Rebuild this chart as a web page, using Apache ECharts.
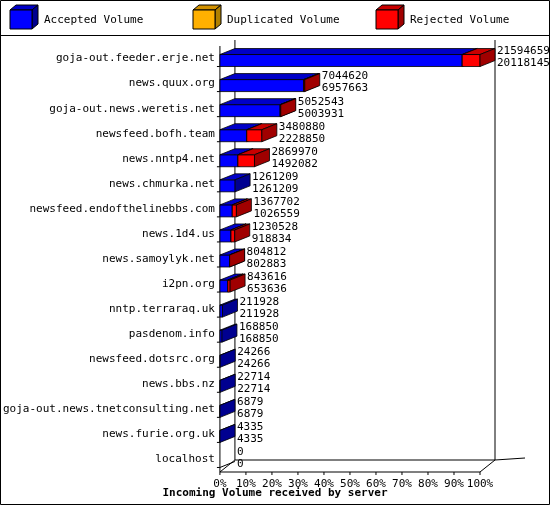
<!DOCTYPE html><html><head><meta charset="utf-8">
<script src="https://cdn.jsdelivr.net/npm/echarts@6/dist/echarts.min.js"></script>
<style>html,body{margin:0;padding:0;background:#fff}#c{width:550px;height:505px}</style></head><body><div id="c"></div>
<script>
const servers=["goja-out.feeder.erje.net","news.quux.org","goja-out.news.weretis.net","newsfeed.bofh.team","news.nntp4.net","news.chmurka.net","newsfeed.endofthelinebbs.com","news.1d4.us","news.samoylyk.net","i2pn.org","nntp.terraraq.uk","pasdenom.info","newsfeed.dotsrc.org","news.bbs.nz","goja-out.news.tnetconsulting.net","news.furie.org.uk","localhost"];
const offered=[21594659,7044620,5052543,3480880,2869970,1261209,1367702,1230528,804812,843616,211928,168850,24266,22714,6879,4335,0];
const accepted=[20118145,6957663,5003931,2228850,1492082,1261209,1026559,918834,802883,653636,211928,168850,24266,22714,6879,4335,0];
const tickLabels=["0%","10%","20%","30%","40%","50%","60%","70%","80%","90%","100%"];
const FONT='"DejaVu Sans Mono", monospace';
const DX=15,DY=6,H=12;
function box(x0,x1,yb,front,topc,side){
  return [
    {type:'rect',shape:{x:x0,y:yb-H,width:Math.max(x1-x0,0),height:H},style:{fill:front,stroke:'#000',lineWidth:0.8}},
    {type:'polygon',shape:{points:[[x0,yb-H],[x0+DX,yb-H-DY],[x1+DX,yb-H-DY],[x1,yb-H]]},style:{fill:topc,stroke:'#000',lineWidth:0.8}},
    {type:'polygon',shape:{points:[[x1,yb-H],[x1+DX,yb-H-DY],[x1+DX,yb-DY],[x1,yb]]},style:{fill:side,stroke:'#000',lineWidth:0.8}}
  ];
}
const data=servers.map((s,i)=>[i,accepted[i],offered[i]]);
const chart=echarts.init(document.getElementById('c'));
const maxV=Math.max(...offered);
chart.setOption({
  animation:false,
  grid:{left:200,right:70,top:46,bottom:33},
  xAxis:{type:'value',min:0,max:maxV,interval:maxV/10,axisLine:{show:false},axisTick:{show:false},splitLine:{show:false},
    axisLabel:{margin:7,color:'#000',fontFamily:FONT,fontSize:11,formatter:(v)=>tickLabels[Math.round(v/maxV*10)]}},
  yAxis:{type:'category',data:servers,inverse:true,axisLine:{show:false},axisTick:{show:false},
    axisLabel:{margin:5,color:'#000',fontFamily:FONT,fontSize:11}},
  series:[{type:'custom',data:data,encode:{x:[1,2],y:0},renderItem:(p,api)=>{
    const i=api.value(0),a=api.value(1),o=api.value(2);
    const p0=api.coord([0,i]),pa=api.coord([a,i]),po=api.coord([o,i]);
    const yb=p0[1]+8;
    let ch=[];
    if(o>0){
      ch=ch.concat(box(p0[0],pa[0],yb,'#0000ff','#0000c8','#000090'));
      if(o>a) ch=ch.concat(box(pa[0],po[0],yb,'#ff0000','#c80000','#a00000'));
    } else {
      ch.push({type:'line',shape:{x1:p0[0],y1:yb,x2:p0[0]+DX,y2:yb-DY},style:{stroke:'#000',lineWidth:1}});
    }
    ch.push({type:'text',style:{x:po[0]+DX+2,y:p0[1]-1,text:o+'\n'+a,font:'11px '+FONT,fill:'#000',lineHeight:12,verticalAlign:'middle'}});
    return {type:'group',children:ch};
  }}]
});
const L=chart.convertToPixel({xAxisIndex:0},0),R=chart.convertToPixel({xAxisIndex:0},maxV);
const yTop=40,fb=472,bb=fb-12;
const ln=(x1,y1,x2,y2)=>({type:'line',shape:{x1,y1,x2,y2},style:{stroke:'#000',lineWidth:1},silent:true});
const g=[
  {type:'rect',shape:{x:0.5,y:0.5,width:549,height:504},style:{fill:null,stroke:'#000',lineWidth:1},z:-1},
  ln(0,35.5,550,35.5),
  ln(L+DX,yTop,L+DX,bb),ln(L+DX,bb,R+DX,bb),ln(R+DX,yTop,R+DX,bb),
  ln(L,yTop+6,L,fb),ln(L,fb,R,fb),ln(R,fb,R+DX,bb),ln(L,fb,L+DX,bb),ln(R+DX,bb,R+DX+30,bb-2),
  {type:'text',style:{x:275,y:493,text:'Incoming Volume received by server',font:'bold 11px '+FONT,fill:'#000',align:'center',verticalAlign:'middle'}}
];
for(let k=0;k<=10;k++){const x=L+(R-L)*k/10;g.push(ln(x,fb,x,fb+3));}
servers.forEach((s,i)=>{const y=chart.convertToPixel({yAxisIndex:0},i);g.push(ln(L-3,y+8,L,y+8));});
const leg=[['Accepted Volume','#0000ff','#0000c8','#000090',10],['Duplicated Volume','#ffb000','#d09000','#b08000',193],['Rejected Volume','#ff0000','#c80000','#a00000',376]];
leg.forEach(([t,f,tp,sd,x])=>{
  g.push({type:'polygon',shape:{points:[[x,10],[x+6,5],[x+28,5],[x+22,10]]},style:{fill:tp,stroke:'#000'}});
  g.push({type:'polygon',shape:{points:[[x+22,10],[x+28,5],[x+28,24],[x+22,29]]},style:{fill:sd,stroke:'#000'}});
  g.push({type:'rect',shape:{x:x,y:10,width:22,height:19},style:{fill:f,stroke:'#000'}});
  g.push({type:'text',style:{x:x+34,y:20,text:t,font:'11px '+FONT,fill:'#000',verticalAlign:'middle'}});
});
chart.setOption({graphic:g});
</script></body></html>
